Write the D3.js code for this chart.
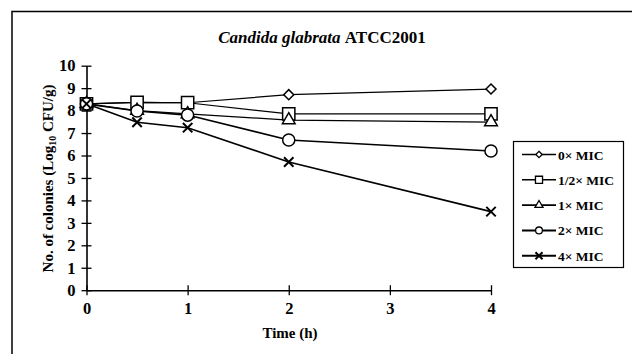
<!DOCTYPE html>
<html>
<head>
<meta charset="utf-8">
<script src="https://cdn.jsdelivr.net/npm/d3@7"></script>
<style>
	body { margin: 0; background: #fff; }
	text { font-family: "Liberation Serif", "Times New Roman", serif; font-weight: bold; fill: #000; }
</style>
</head>
<body>
<div id="chart"></div>
<script>
// time kill curve
///

const times = [0, 0.5, 1, 2, 4];
const xTicks = [0, 1, 2, 3, 4];
const yTicks = [0, 1, 2, 3, 4, 5, 6, 7, 8, 9, 10];
const seriesNames = ['0\u00d7 MIC', '1/2\u00d7 MIC', '1\u00d7 MIC', '2\u00d7 MIC', '4\u00d7 MIC'];
const mic0 = [8.3, 8.37, 8.35, 8.71, 8.96];
const micHalf = [8.3, 8.37, 8.35, 7.85, 7.85];
const mic1 = [8.3, 8.0, 7.85, 7.58, 7.49];
const mic2 = [8.3, 7.98, 7.8, 6.69, 6.2];
const mic4 = [8.3, 7.48, 7.24, 5.71, 3.5];

const w = 632, h = 354;

let svg = d3.select("#chart").append('svg')
	.attr("width", w)
	.attr("height", h);

// outer frame, runs off the right and bottom edges
svg.append('rect')
	.attr('x', 12).attr('y', 11.5)
	.attr('width', 700).attr('height', 400)
	.attr('fill', 'none').attr('stroke', '#000').attr('stroke-width', 1.5);

const x = d3.scaleLinear().domain([0, 4]).range([86.5, 491]);
const y = d3.scaleLinear().domain([0, 10]).range([290.2, 65.7]);

// axes, ticks cross the line
let xAxis = svg.append('g')
	.attr('transform', 'translate(0,' + y(0) + ')')
	.call(d3.axisBottom(x).tickValues(xTicks).tickSize(0).tickPadding(12).tickFormat(d3.format('d')));
xAxis.selectAll('.tick').append('line').attr('y1', -5).attr('y2', 5).attr('stroke', '#000').attr('stroke-width', 1.3);

let yAxis = svg.append('g')
	.attr('transform', 'translate(' + x(0) + ',0)')
	.call(d3.axisLeft(y).tickValues(yTicks).tickSize(0).tickPadding(11).tickFormat(d3.format('d')));
yAxis.selectAll('.tick').append('line').attr('x1', -5).attr('x2', 5).attr('stroke', '#000').attr('stroke-width', 1.3);

svg.selectAll('.domain').attr('stroke', '#000').attr('stroke-width', 1.6);
svg.selectAll('.tick text').style('font-size', '16.5px');

// titles
let title = svg.append('text')
	.attr('x', 322).attr('y', 43)
	.attr('text-anchor', 'middle')
	.style('font-size', '17px');
title.append('tspan').style('font-style', 'italic').text('Candida glabrata ');
title.append('tspan').text('ATCC2001');

svg.append('text')
	.attr('x', 290).attr('y', 338)
	.attr('text-anchor', 'middle')
	.style('font-size', '15px')
	.text('Time (h)');

let ylab = svg.append('text')
	.attr('transform', 'translate(53,' + 178.5 + ') rotate(-90)')
	.attr('text-anchor', 'middle')
	.style('font-size', '15px');
ylab.append('tspan').text('No. of colonies (Log');
ylab.append('tspan').style('font-size', '10px').attr('dy', 3).text('10');
ylab.append('tspan').attr('dy', -3).text(' CFU/g)');

// series
const series = [
	{ name: seriesNames[0], values: mic0, symbol: d3.symbolDiamond2, size: 64, lsize: 26, width: 1.2 },
	{ name: seriesNames[1], values: micHalf, symbol: d3.symbolSquare, size: 150, lsize: 50, width: 1.2 },
	{ name: seriesNames[2], values: mic1, symbol: d3.symbolTriangle, size: 70, lsize: 28, width: 1.2 },
	{ name: seriesNames[3], values: mic2, symbol: d3.symbolCircle, size: 115, lsize: 36, width: 1.6 },
	{ name: seriesNames[4], values: mic4, symbol: d3.symbolX, size: 60, lsize: 34, width: 1.6 }
];

let line = d3.line()
	.x(function(d, i) { return x(times[i]) })
	.y(function(d) { return y(d) });

svg.append('g').selectAll('path')
	.data(series)
	.enter()
	.append('path')
	.attr('d', function(d) { return line(d.values) })
	.attr('fill', 'none')
	.attr('stroke', '#000')
	.attr('stroke-width', function(d) { return d.width });

series.forEach(function(s) {
	let isX = s.symbol == d3.symbolX;
	svg.append('g').selectAll('path')
		.data(s.values)
		.enter()
		.append('path')
		.attr('d', d3.symbol().type(s.symbol).size(s.size))
		.attr('transform', function(d, i) { return 'translate(' + x(times[i]) + ',' + y(d) + ')' })
		.attr('fill', isX ? 'none' : '#fff')
		.attr('stroke', '#000')
		.attr('stroke-width', isX ? 2 : 1.5);
});

// legend
let legend = svg.append('g');
legend.append('rect')
	.attr('x', 513.5).attr('y', 141.5)
	.attr('width', 110).attr('height', 126)
	.attr('fill', '#fff').attr('stroke', '#000').attr('stroke-width', 1.2);

let items = legend.selectAll('.item')
	.data(series)
	.enter()
	.append('g')
	.attr('transform', function(d, i) { return 'translate(0,' + (154.5 + i * 25.3) + ')' });

items.append('line')
	.attr('x1', 522).attr('x2', 556)
	.attr('stroke', '#000')
	.attr('stroke-width', function(d) { return d.width + 0.4 });

items.append('path')
	.attr('d', function(d) { return d3.symbol().type(d.symbol).size(d.lsize)() })
	.attr('transform', 'translate(539,0)')
	.attr('fill', function(d) { return d.symbol == d3.symbolX ? 'none' : '#fff' })
	.attr('stroke', '#000')
	.attr('stroke-width', function(d) { return d.symbol == d3.symbolX ? 2 : 1.3 });

items.append('text')
	.attr('x', 558).attr('y', 5)
	.style('font-size', '13.5px')
	.text(function(d) { return d.name });
</script>
</body>
</html>
